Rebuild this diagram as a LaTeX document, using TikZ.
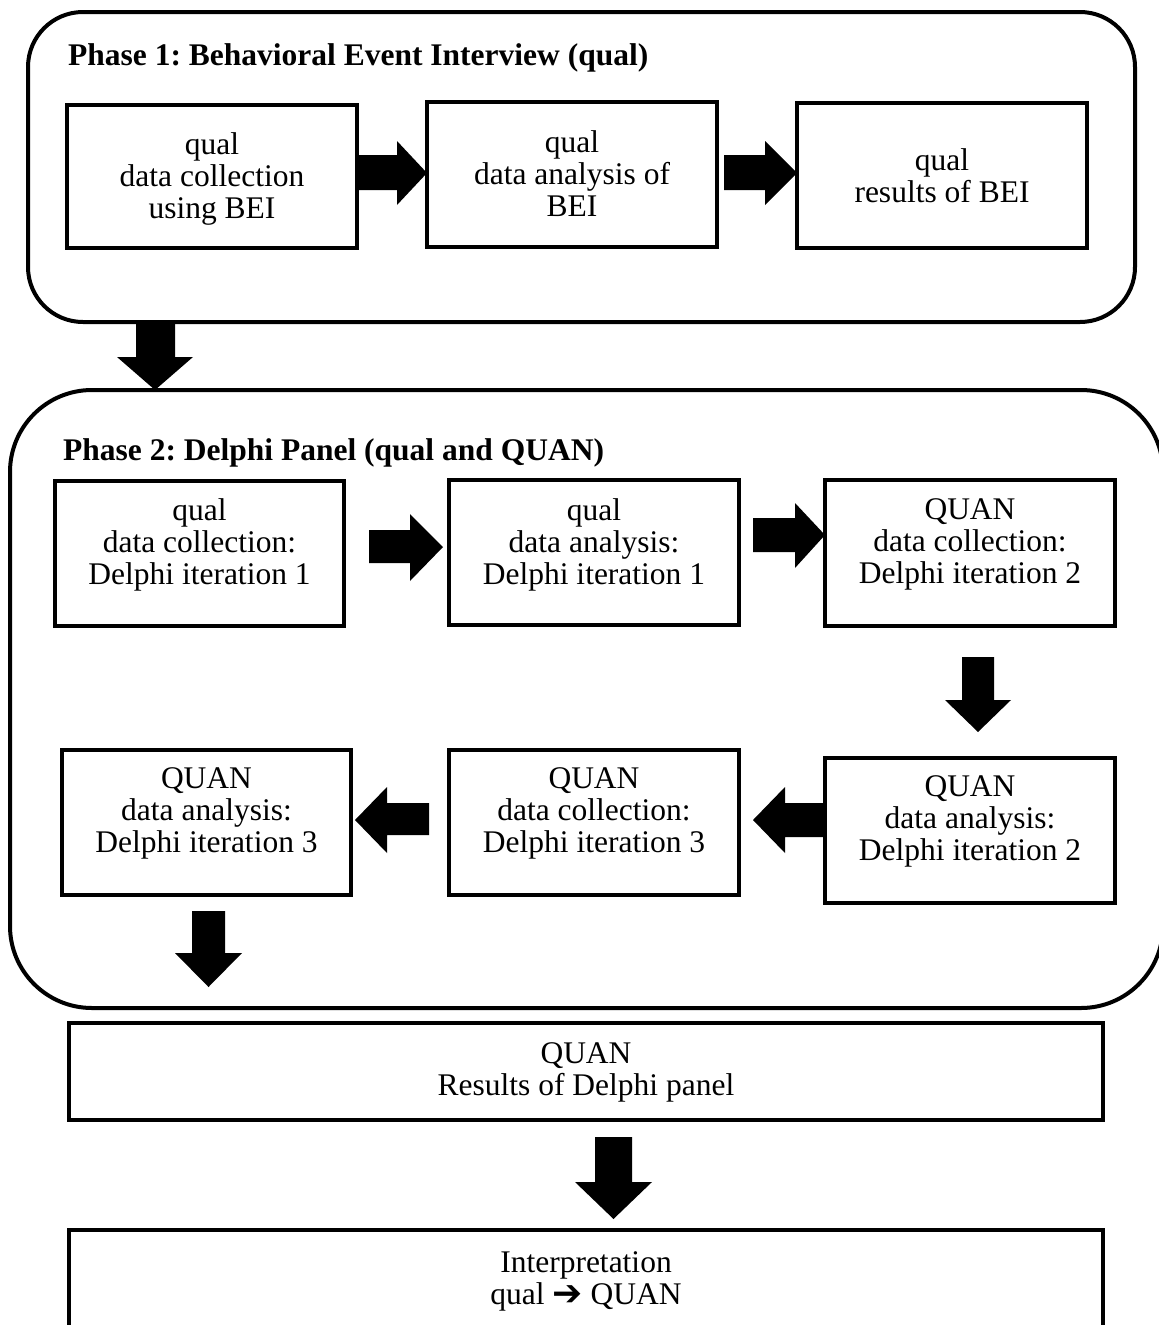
\documentclass[tikz,border=0pt]{standalone}
\usepackage{fontspec}
\setmainfont{Liberation Serif}
\newfontfamily\symfont{DejaVu Sans}
\frenchspacing
\begin{document}
\begin{tikzpicture}[x=1pt,y=-1pt,
  phasebox/.style={draw=black,line width=4pt,rounded corners=#1},
  stepbox/.style={draw=black,line width=4pt,rectangle,inner sep=0pt},
  boxtext/.style={align=center,inner sep=0pt,font=\fontsize{31.5}{32}\selectfont},
  phasetitle/.style={anchor=west,inner sep=0pt,font=\fontsize{31.5}{32}\selectfont\bfseries},
  blockarrow/.style={fill=black}]
\useasboundingbox (0,0) rectangle (1159,1325);
\clip (0,0) rectangle (1159,1325);
\fill[white] (0,0) rectangle (1159,1325);

% Phase 1
\draw[phasebox=55pt] (28,12) rectangle (1135,322);
\node[phasetitle] (title1) at (68,58) {Phase 1: Behavioral Event Interview (qual)};
\node[stepbox,minimum width=290pt,minimum height=143pt] (b11) at (212,176.5) {};
\node[stepbox,minimum width=290pt,minimum height=145pt] (b12) at (572,174.5) {};
\node[stepbox,minimum width=290pt,minimum height=145pt] (b13) at (942,175.5) {};
\node[boxtext] (t11) at (212,179) {qual\\data collection\\using BEI};
\node[boxtext] (t12) at (572,174) {qual\\data analysis of\\BEI};
\node[boxtext] (t13) at (942,176) {qual\\results of BEI};

% Phase 2
\draw[phasebox=82pt] (10,390) rectangle (1163,1008);
\node[phasetitle] (title2) at (63,453) {Phase 2: Delphi Panel (qual and QUAN)};
\node[stepbox,minimum width=289pt,minimum height=145pt] (b21) at (199.5,553.5) {};
\node[stepbox,minimum width=290pt,minimum height=145pt] (b22) at (594,552.5) {};
\node[stepbox,minimum width=290pt,minimum height=146pt] (b23) at (970,553) {};
\node[stepbox,minimum width=289pt,minimum height=145pt] (b24) at (206.5,822.5) {};
\node[stepbox,minimum width=290pt,minimum height=145pt] (b25) at (594,822.5) {};
\node[stepbox,minimum width=290pt,minimum height=145pt] (b26) at (970,830.5) {};
\node[boxtext] (t21) at (199.5,545) {qual\\data collection:\\Delphi iteration 1};
\node[boxtext] (t22) at (594,545) {qual\\data analysis:\\Delphi iteration 1};
\node[boxtext] (t23) at (970,544) {QUAN\\data collection:\\Delphi iteration 2};
\node[boxtext] (t24) at (206.5,813) {QUAN\\data analysis:\\Delphi iteration 3};
\node[boxtext] (t25) at (594,813) {QUAN\\data collection:\\Delphi iteration 3};
\node[boxtext] (t26) at (970,821) {QUAN\\data analysis:\\Delphi iteration 2};

% Results and interpretation
\node[stepbox,minimum width=1034pt,minimum height=97pt] (res) at (586,1071.5) {};
\node[boxtext] (tres) at (586,1072) {QUAN\\Results of Delphi panel};
\node[stepbox,minimum width=1034pt,minimum height=120pt] (interp) at (586,1290) {};
\node[boxtext] (tinterp) at (586,1281) {Interpretation\\qual {\symfont\fontsize{36}{32}\selectfont\raisebox{-1pt}{➔}} QUAN};

% Block arrows
% phase 1, right
\fill[blockarrow] (357,155) -- (397,155) -- (397,141) -- (427,173) -- (397,205) -- (397,190) -- (357,190) -- cycle;
\fill[blockarrow] (724,155) -- (765,155) -- (765,141) -- (797,173) -- (765,205) -- (765,190) -- (724,190) -- cycle;
% phase 1 -> phase 2, down
\fill[blockarrow] (136,323) -- (136,357) -- (117,357) -- (155,390) -- (193,357) -- (175,357) -- (175,323) -- cycle;
% row 1, right
\fill[blockarrow] (369,530) -- (410,530) -- (410,514) -- (443,547) -- (410,581) -- (410,563) -- (369,563) -- cycle;
\fill[blockarrow] (753,518) -- (795,518) -- (795,503) -- (825,535) -- (795,568) -- (795,552) -- (753,552) -- cycle;
% down to row 2
\fill[blockarrow] (962,657) -- (962,700) -- (945,700) -- (978,732) -- (1011,700) -- (994,700) -- (994,657) -- cycle;
% row 2, left
\fill[blockarrow] (825,803) -- (785,803) -- (785,787) -- (753,820) -- (785,853) -- (785,837) -- (825,837) -- cycle;
\fill[blockarrow] (429,803) -- (387,803) -- (387,787) -- (355,820) -- (387,853) -- (387,835) -- (429,835) -- cycle;
% down to results
\fill[blockarrow] (192,911) -- (192,953) -- (175,953) -- (208.5,987) -- (242,953) -- (225,953) -- (225,911) -- cycle;
% down to interpretation
\fill[blockarrow] (595,1137) -- (595,1182) -- (575,1182) -- (613.5,1219) -- (652,1182) -- (632,1182) -- (632,1137) -- cycle;
\end{tikzpicture}
\end{document}
